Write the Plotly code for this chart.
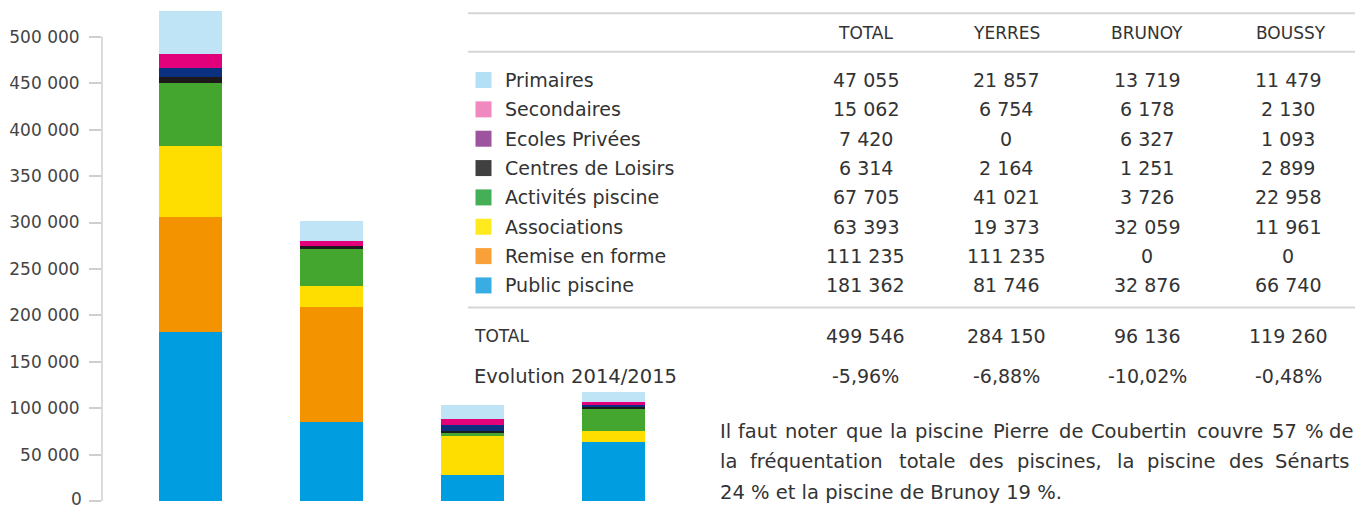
import plotly.graph_objects as go

# ---------------- data ----------------
towns = ["TOTAL", "YERRES", "BRUNOY", "BOUSSY"]
categories = ["Primaires", "Secondaires", "Ecoles Privées", "Centres de Loisirs",
              "Activités piscine", "Associations", "Remise en forme", "Public piscine"]

# bar heights as drawn in the picture (per town)
bar_primaires = [46300, 21500, 15100, 10800]
bar_secondaires = [15100, 5400, 6500, 2900]
bar_ecoles = [9700, 0, 6500, 1400]
bar_centres = [6500, 2100, 2200, 3200]
bar_activites = [67800, 41000, 3200, 23700]
bar_associations = [76500, 22600, 42000, 11800]
bar_remise = [123800, 123800, 0, 0]
bar_public = [182000, 85100, 28000, 63500]

# table values
tab_primaires = [47055, 21857, 13719, 11479]
tab_secondaires = [15062, 6754, 6178, 2130]
tab_ecoles = [7420, 0, 6327, 1093]
tab_centres = [6314, 2164, 1251, 2899]
tab_activites = [67705, 41021, 3726, 22958]
tab_associations = [63393, 19373, 32059, 11961]
tab_remise = [111235, 111235, 0, 0]
tab_public = [181362, 81746, 32876, 66740]
tab_total = [499546, 284150, 96136, 119260]
evolution = [-5.96, -6.88, -10.02, -0.48]

y_ticks = [0, 50000, 100000, 150000, 200000, 250000, 300000, 350000, 400000, 450000, 500000]

paragraph = ["Il faut noter que la piscine Pierre de Coubertin couvre 57 % de",
             "la fréquentation totale des piscines, la piscine des Sénarts",
             "24 % et la piscine de Brunoy 19 %."]

# ---------------- styles ----------------
bar_colors = {
    "Primaires": "#bfe4f6", "Secondaires": "#e3007b", "Ecoles Privées": "#0c3080",
    "Centres de Loisirs": "#1e1a1c", "Activités piscine": "#44a62e",
    "Associations": "#fedd00", "Remise en forme": "#f39300", "Public piscine": "#009ee0",
}
swatch_colors = {
    "Primaires": "#a9dcf3", "Secondaires": "#ee79b4", "Ecoles Privées": "#8f3b8f",
    "Centres de Loisirs": "#262626", "Activités piscine": "#2aa43f",
    "Associations": "#ffe600", "Remise en forme": "#f7941d", "Public piscine": "#1ea0e0",
}
FONT = "DejaVu Sans, Verdana, sans-serif"
TXT = "#333333"
PARA_SIZE = 19.5
ADV_SCALE = 1.03

# approximate advance widths (DejaVu Sans, per 1000 em) used to justify lines
ADV = {"l": 278, "a": 613, "f": 352, "r": 411, "é": 615, "q": 635, "u": 634, "e": 615,
       "n": 634, "t": 392, "i": 278, "o": 612, "d": 635, "s": 521, "p": 635, "c": 550,
       ",": 318, "S": 635, "I": 295, "P": 603, "C": 698, "b": 635, "v": 592,
       "5": 636, "7": 636, "%": 1002}

bars_by_cat = {
    "Primaires": bar_primaires, "Secondaires": bar_secondaires, "Ecoles Privées": bar_ecoles,
    "Centres de Loisirs": bar_centres, "Activités piscine": bar_activites,
    "Associations": bar_associations, "Remise en forme": bar_remise, "Public piscine": bar_public,
}
tab_by_cat = {
    "Primaires": tab_primaires, "Secondaires": tab_secondaires, "Ecoles Privées": tab_ecoles,
    "Centres de Loisirs": tab_centres, "Activités piscine": tab_activites,
    "Associations": tab_associations, "Remise en forme": tab_remise, "Public piscine": tab_public,
}

# plot-area geometry in pixels
L, W = 102, 582
Y0 = 501            # pixel row of value 0
PXK = 0.9286        # pixels per 1000
Y_MIN = -3000
TOP = 5
B = Y0 + (-Y_MIN) / 1000 * PXK
H = B - TOP
FIG_W, FIG_H = 1355, 510


def px(x):
    return (x - L) / W


def py(y):
    return (B - y) / H


def fmt(v):
    return f"{v:,}".replace(",", " ")


fig = go.Figure()
xpos = list(range(len(towns)))
for cat in reversed(categories):  # bottom of stack first
    fig.add_trace(go.Bar(
        x=xpos, y=bars_by_cat[cat], name=cat, width=0.447,
        marker=dict(color=bar_colors[cat], line=dict(width=0)),
        showlegend=False, hoverinfo="skip",
    ))

shapes = []
annotations = []

# y-axis line from 0 to 500 000 only
shapes.append(dict(type="line", xref="paper", yref="y", x0=0, x1=0, y0=0, y1=500000,
                   line=dict(color="#cfcfcf", width=1.5)))
# label for the 0 tick (placed as annotation so it stays inside the picture)
annotations.append(dict(x=px(83), y=py(509.5), text=fmt(y_ticks[0]), xanchor="right",
                        yanchor="bottom", borderpad=0,
                        font=dict(family=FONT, size=17, color="#444444")))

# table lines
for yl in [13.3, 51.7, 307.3]:
    shapes.append(dict(type="line", xref="paper", yref="paper", x0=px(468), x1=px(1356),
                       y0=py(yl), y1=py(yl), line=dict(color="#d6d6d6", width=2)))

head_x = [865.5, 1006, 1147, 1291]
col_x = [865.5, 1006, 1147, 1288]
for t, hx in zip(towns, head_x):
    annotations.append(dict(x=px(hx), y=py(33), text=t, xanchor="center", yanchor="middle",
                            font=dict(family=FONT, size=17, color=TXT)))

row_y0, row_dy = 80, 29.33
for i, cat in enumerate(categories):
    ry = row_y0 + row_dy * i
    shapes.append(dict(type="rect", xref="paper", yref="paper", x0=px(475.5), x1=px(491.5),
                       y0=py(ry + 8), y1=py(ry - 8), fillcolor=swatch_colors[cat],
                       line=dict(width=0), opacity=0.88))
    annotations.append(dict(x=px(502.5), y=py(ry), text=cat, xanchor="left", yanchor="middle",
                            font=dict(family=FONT, size=19, color=TXT)))
    for v, cx in zip(tab_by_cat[cat], col_x):
        annotations.append(dict(x=px(cx), y=py(ry), text=fmt(v), xanchor="center",
                                yanchor="middle", font=dict(family=FONT, size=19, color=TXT)))

annotations.append(dict(x=px(472), y=py(336), text="TOTAL", xanchor="left", yanchor="middle",
                        font=dict(family=FONT, size=17, color=TXT)))
annotations.append(dict(x=px(472), y=py(376), text="Evolution 2014/2015", xanchor="left",
                        yanchor="middle", font=dict(family=FONT, size=19.5, color=TXT)))
for v, e, cx in zip(tab_total, evolution, col_x):
    annotations.append(dict(x=px(cx), y=py(336), text=fmt(v), xanchor="center",
                            yanchor="middle", font=dict(family=FONT, size=19, color=TXT)))
    annotations.append(dict(x=px(cx), y=py(376), text=f"{e:.2f}%".replace(".", ","),
                            xanchor="center", yanchor="middle",
                            font=dict(family=FONT, size=19, color=TXT)))

# ---- paragraph ----
para_y = [431, 461.5, 492]
PX0 = 717.5
PX_END = [1355, 1352]


def para(txt, x, anchor, y):
    annotations.append(dict(x=px(x), y=py(y), text=txt, xanchor=anchor, yanchor="middle",
                            font=dict(family=FONT, size=PARA_SIZE, color=TXT)))


def justified(line, y, x_end):
    words = line.split(" ")
    ww = [sum(ADV.get(ch, 600) for ch in w) / 1000 * PARA_SIZE * ADV_SCALE for w in words]
    gap = ((x_end - PX0) - sum(ww)) / (len(words) - 1)
    xcur = PX0
    for k, (w, wd) in enumerate(zip(words, ww)):
        if k == len(words) - 1:
            para(w, x_end, "right", y)
        else:
            para(w, xcur, "left", y)
        xcur += wd + gap


justified(paragraph[0], para_y[0], PX_END[0])
justified(paragraph[1], para_y[1], PX_END[1])
para(paragraph[2], PX0, "left", para_y[2])

for a in annotations:
    a.update(xref="paper", yref="paper", showarrow=False)

fig.update_layout(
    width=FIG_W, height=FIG_H,
    margin=dict(l=L, r=FIG_W - L - W, t=TOP, b=FIG_H - B, pad=0),
    barmode="stack", bargap=0,
    paper_bgcolor="white", plot_bgcolor="white",
    separators=", ",
    showlegend=False,
    shapes=shapes, annotations=annotations,
    xaxis=dict(range=[-0.6277, 3.5], showticklabels=False, showgrid=False, zeroline=False,
               showline=False, ticks=""),
    yaxis=dict(range=[Y_MIN, Y_MIN + H / PXK * 1000], tickvals=y_ticks,
               ticktext=["" if v == 0 else fmt(v) for v in y_ticks],
               showgrid=False, zeroline=False, showline=False,
               ticks="outside", ticklen=12, tickcolor="#cfcfcf", tickwidth=1.5,
               ticklabelstandoff=6,
               tickfont=dict(family=FONT, size=17, color="#444444")),
)

fig.write_html("out.html", config={"displayModeBar": False},
               post_script="document.body.style.margin='0';document.body.style.overflow='hidden';")
